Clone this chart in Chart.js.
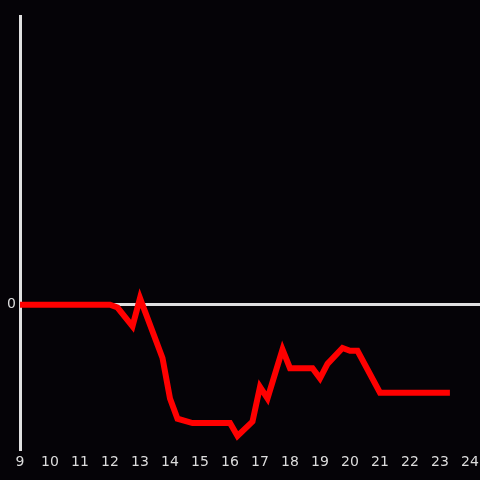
<!DOCTYPE html>
<html>
<head>
<meta charset="utf-8">
<script src="https://cdn.jsdelivr.net/npm/chart.js@4"></script>
<style>
  html, body { margin: 0; padding: 0; background: #050307; }
  #wrap { width: 480px; height: 480px; }
</style>
</head>
<body>
<div id="wrap"><canvas id="myChart"></canvas></div>
<script>
// hours of the day and the reading at each one
const hours = [9, 12, 12.25, 12.75, 13, 13.75, 14, 14.25, 14.75, 16, 16.25, 16.75, 17, 17.25, 17.75, 18, 18.75, 19, 19.25, 19.75, 20, 20.25, 21, 23.33];
const values = [0, 0, -2, -15, 4.5, -37, -65, -79, -82, -82, -91, -81, -57, -65, -31, -44, -44, -51, -41, -30, -32, -32, -61, -61];
const xTicks = [9, 10, 11, 12, 13, 14, 15, 16, 17, 18, 19, 20, 21, 22, 23, 24];
const yTicks = [0];

const textColor = "#dcdcdc";
const axisColor = "#e0e0e0";

const points = hours.map((h, i) => ({ x: h, y: values[i] }));

new Chart("myChart", {
  type: "line",
  data: {
    datasets: [{
      data: points,
      borderColor: "#ff0000",
      borderWidth: 6,
      pointRadius: 0,
      tension: 0,
      fill: false
    }]
  },
  options: {
    responsive: true,
    maintainAspectRatio: false,
    animation: false,
    layout: { padding: { top: 16, right: 0, left: 0, bottom: 0 } },
    plugins: { legend: { display: false }, tooltip: { enabled: false } },
    scales: {
      x: {
        type: "linear",
        min: 9,
        max: 24 + 1 / 3,
        afterBuildTicks: axis => { axis.ticks = xTicks.map(v => ({ value: v })); },
        afterFit: axis => {
          axis.height = 31;
          axis.paddingLeft = 0;
          axis.paddingRight = 0;
        },
        grid: { display: false, drawTicks: false },
        border: { display: false },
        ticks: { color: textColor, font: { family: "DejaVu Sans", size: 14 }, padding: 5, maxRotation: 0 }
      },
      y: {
        min: -100,
        max: 200,
        afterBuildTicks: axis => { axis.ticks = yTicks.map(v => ({ value: v })); },
        afterFit: axis => { axis.width = 20; },
        grid: { color: axisColor, lineWidth: 3, drawTicks: false },
        border: { display: true, color: axisColor, width: 3 },
        ticks: { color: textColor, font: { family: "DejaVu Sans", size: 14 }, padding: 4 }
      }
    }
  }
});
</script>
</body>
</html>
